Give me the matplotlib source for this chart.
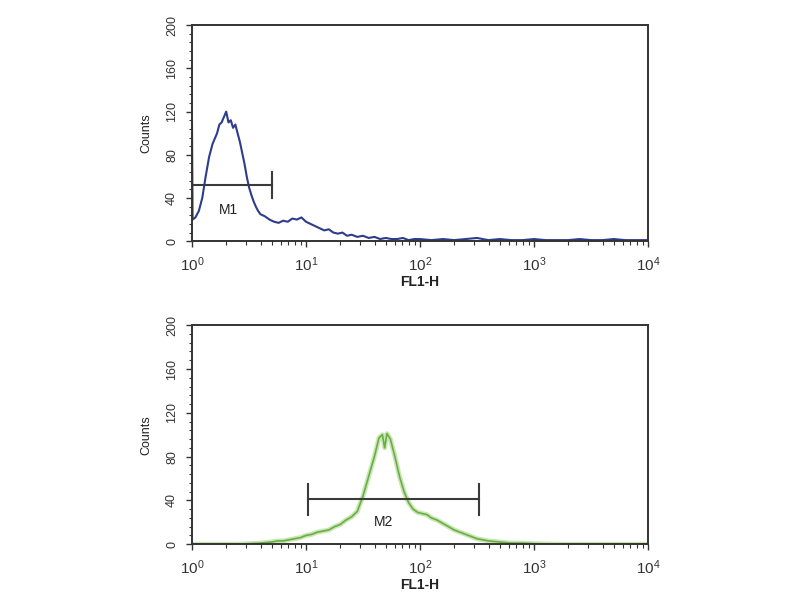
import matplotlib.pyplot as plt
from matplotlib.ticker import LogLocator, MultipleLocator, NullFormatter

plt.rcParams['font.family'] = ['Liberation Sans', 'DejaVu Sans']
plt.rcParams['xtick.top'] = False
plt.rcParams['ytick.right'] = False

# top histogram (blue), log10 of FL1-H vs counts
top_logx = [0.0, 0.005, 0.03, 0.06, 0.09, 0.12, 0.15, 0.18, 0.20, 0.22, 0.24, 0.26, 0.28,
            0.30, 0.32, 0.34, 0.36, 0.38, 0.40, 0.42, 0.44, 0.46, 0.48, 0.50, 0.52, 0.54,
            0.56, 0.58, 0.60, 0.64, 0.68, 0.72, 0.76, 0.80, 0.84, 0.88, 0.92, 0.96, 1.00,
            1.04, 1.08, 1.12, 1.16, 1.20, 1.24, 1.28, 1.32, 1.36, 1.40, 1.45, 1.50, 1.55,
            1.60, 1.65, 1.70, 1.75, 1.80, 1.85, 1.90, 1.95, 2.00, 2.10, 2.20, 2.30, 2.40,
            2.50, 2.55, 2.60, 2.70, 2.80, 2.90, 3.00, 3.10, 3.20, 3.30, 3.40, 3.50, 3.60,
            3.70, 3.80, 3.90, 4.00]
top_counts = [110, 20, 22, 28, 40, 60, 78, 90, 95, 100, 108, 110, 115,
              120, 110, 112, 105, 108, 100, 92, 82, 72, 60, 50, 43, 37,
              32, 28, 25, 23, 20, 18, 17, 19, 18, 21, 20, 22, 18,
              16, 14, 12, 10, 11, 8, 7, 8, 5, 6, 4, 5, 3,
              4, 2, 3, 2, 2, 3, 1, 2, 2, 1, 2, 1, 2,
              3, 2, 1, 2, 1, 1, 2, 1, 1, 1, 2, 1, 1,
              2, 1, 1, 1]

# bottom histogram (green)
bot_logx = [0.0, 0.2, 0.4, 0.6, 0.70, 0.75, 0.80, 0.85, 0.90, 0.95, 1.00, 1.05, 1.10,
            1.15, 1.20, 1.25, 1.30, 1.35, 1.40, 1.45, 1.50, 1.55, 1.60, 1.64, 1.67,
            1.69, 1.71, 1.74, 1.78, 1.82, 1.86, 1.90, 1.94, 1.98, 2.02, 2.06, 2.10,
            2.15, 2.20, 2.25, 2.30, 2.35, 2.40, 2.45, 2.50, 2.55, 2.60, 2.70, 2.80,
            2.90, 3.00, 3.20, 3.50, 4.00]
bot_counts = [0, 0, 0, 1, 2, 3, 3, 4, 5, 6, 8, 9, 11,
              12, 13, 16, 18, 22, 25, 30, 44, 62, 80, 97, 100,
              88, 101, 96, 80, 62, 48, 38, 32, 29, 28, 27, 24,
              22, 19, 16, 13, 11, 9, 7, 5, 4, 3, 2, 1,
              1, 0.5, 0, 0, 0]

# markers: (start, end, level, label, label_x, label_y)
m1 = (1.0, 5.0, 52, 'M1', 2.1, 29)
m2 = (10.5, 330, 41, 'M2', 48, 20)

fig = plt.figure(figsize=(8, 6), dpi=100)
ax1 = fig.add_axes([0.24, 0.598, 0.57, 0.36])
ax2 = fig.add_axes([0.24, 0.093, 0.57, 0.365])

ax1.plot([10 ** v for v in top_logx], top_counts, color='#2e3c8c', lw=1.5)
ax2.plot([10 ** v for v in bot_logx], bot_counts, color='#c9e6b4', lw=3.5)
ax2.plot([10 ** v for v in bot_logx], bot_counts, color='#6aae45', lw=1.2)

for ax, m, cap in [(ax1, m1, 12), (ax2, m2, 14)]:
    x0, x1, lev, lab, lx, ly = m
    ax.plot([x0, x1], [lev, lev], color='#3a3a3a', lw=1.5)
    ax.plot([x0, x0], [lev - cap, lev + cap], color='#3a3a3a', lw=1.5)
    ax.plot([x1, x1], [lev - cap, lev + cap], color='#3a3a3a', lw=1.5)
    ax.text(lx, ly, lab, ha='center', va='center', fontsize=10, color='#222222')

for ax in (ax1, ax2):
    ax.set_xscale('log')
    ax.set_xlim(1, 1e4)
    ax.set_ylim(0, 200)
    ax.set_yticks([0, 40, 80, 120, 160, 200])
    ax.yaxis.set_minor_locator(MultipleLocator(8))
    ax.xaxis.set_major_locator(LogLocator(base=10, numticks=10))
    ax.xaxis.set_minor_locator(LogLocator(base=10, subs=range(2, 10), numticks=10))
    ax.xaxis.set_minor_formatter(NullFormatter())
    ax.yaxis.set_ticks_position('left')
    ax.xaxis.set_ticks_position('bottom')
    for lbl in ax.get_yticklabels():
        lbl.set_rotation(90)
        lbl.set_va('center')
    ax.tick_params(axis='y', which='both', direction='out', labelsize=9, length=4, width=1,
                   colors='#333333', pad=6)
    ax.tick_params(axis='y', which='minor', length=2, width=0.8)
    ax.tick_params(axis='x', which='both', direction='out', labelsize=11, length=4, width=1,
                   colors='#333333', pad=6)
    ax.tick_params(axis='x', which='minor', length=3, width=0.8)
    for sp in ax.spines.values():
        sp.set_color('#333333')
        sp.set_linewidth(1.4)
    ax.set_xlabel('FL1-H', fontsize=10, fontweight='bold', color='#222222', labelpad=1)
    ax.set_ylabel('Counts', fontsize=9, color='#222222', labelpad=10)

plt.savefig('out.png')
